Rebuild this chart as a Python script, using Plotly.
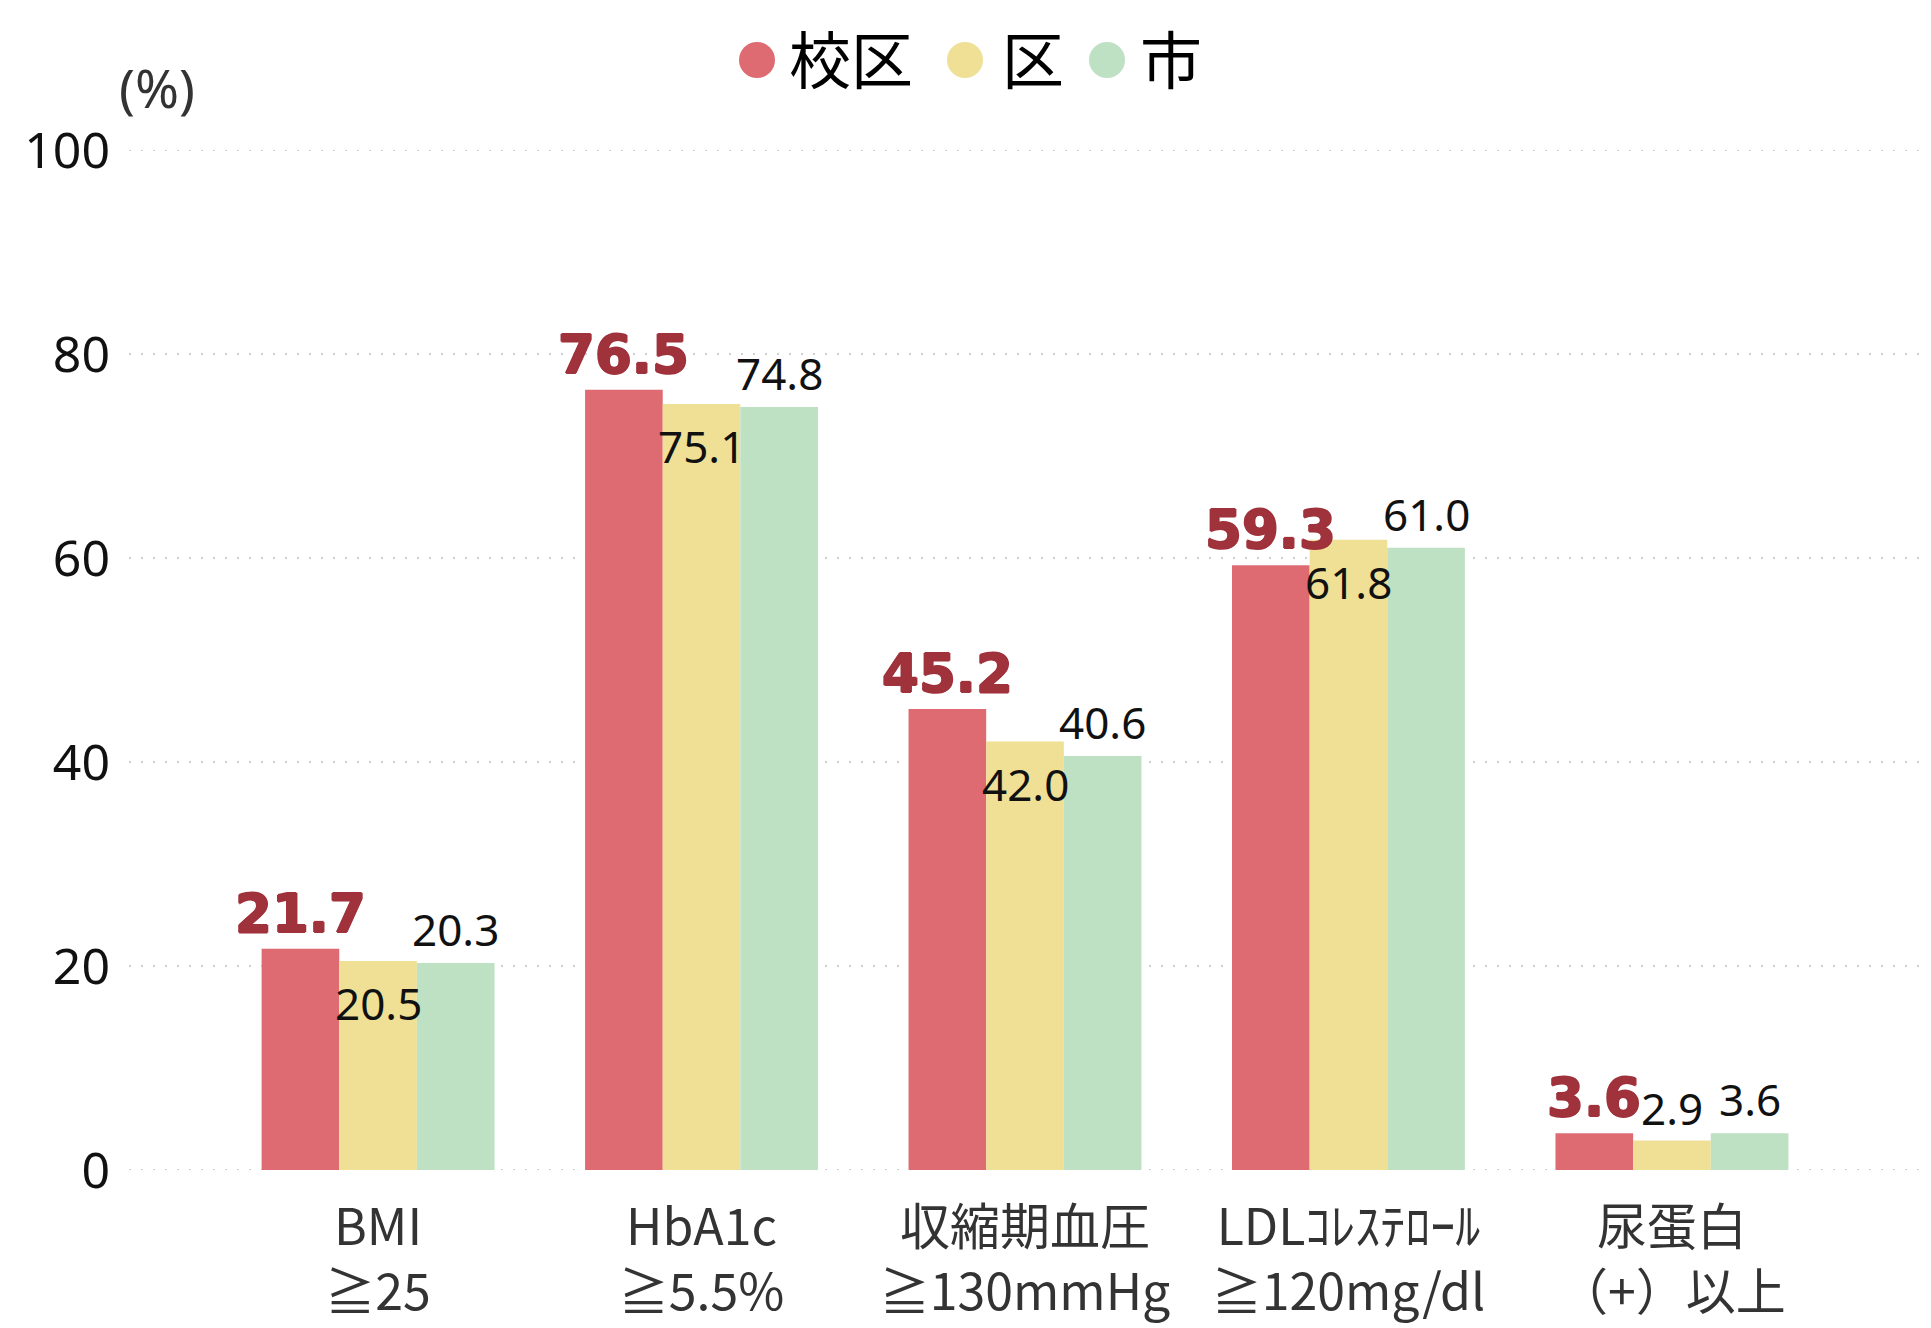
import plotly.graph_objects as go

# ---- data ----
categories = ["BMI<br>≧25", "HbA1c<br>≧5.5%", "収縮期血圧<br>≧130mmHg",
              "LDLｺﾚｽﾃﾛｰﾙ<br>≧120mg/dl", "尿蛋白<br>（+）以上"]
series_names = ["校区", "区", "市"]
school = [21.7, 76.5, 45.2, 59.3, 3.6]
ward = [20.5, 75.1, 42.0, 61.8, 2.9]
city = [20.3, 74.8, 40.6, 61.0, 3.6]
y_ticks = [0, 20, 40, 60, 80, 100]
y_unit = "(%)"

# ---- style ----
W, H = 1931, 1328
ML, MR, MT, MB = 129, 10, 150, 158
colors = ["#DE6A72", "#EFE096", "#BEE0C3"]
label_red = "#A0323C"
FONT = "Noto Sans, Noto Sans CJK JP, sans-serif"
CJK = "Noto Sans CJK JP, sans-serif"
BARGAP = 0.28
bar_w = (1 - BARGAP) / 3
offsets = [-bar_w, 0.0, bar_w]
GRID = dict(color="#cfcfcf", width=2, dash="2px,10px")
RED_SHADOW = ", ".join(f"{dx}px {dy}px 0px {label_red}" for dx, dy in [(1, 0), (-1, 0), (0, 1), (0, -1)])

pw, ph = W - ML - MR, H - MT - MB
def px2paper(x, y):
    return (x - ML) / pw, (H - MB - y) / ph

fig = go.Figure()
for name, vals, col in zip(series_names, [school, ward, city], colors):
    fig.add_trace(go.Bar(x=categories, y=vals, name=name, marker_color=col,
                         marker_line_width=0, showlegend=False, hoverinfo="skip"))

xi = list(range(len(categories)))
annotations = []
# school labels (bold red, above)
for i, v in zip(xi, school):
    annotations.append(dict(x=i + offsets[0], y=v, xref="x", yref="y", text=f"{v:.1f}",
                            showarrow=False, yanchor="bottom", yshift=3,
                            font=dict(family="DejaVu Sans", size=53, color=label_red,
                                      weight="bold", shadow=RED_SHADOW)))
# ward labels (inside top when fits, else above)
for i, v in zip(xi, ward):
    inside = v > 10
    annotations.append(dict(x=i + offsets[1], y=v, xref="x", yref="y", text=f"{v:.1f}",
                            showarrow=False, yanchor="top" if inside else "bottom",
                            yshift=-10 if inside else 0,
                            font=dict(family=FONT, size=44, color="#111111")))
# city labels (above)
for i, v in zip(xi, city):
    annotations.append(dict(x=i + offsets[2], y=v, xref="x", yref="y", text=f"{v:.1f}",
                            showarrow=False, yanchor="bottom", yshift=2,
                            font=dict(family=FONT, size=44, color="#111111")))

# unit label
ux, uy = px2paper(157, 87)
annotations.append(dict(x=ux, y=uy, xref="paper", yref="paper", text=y_unit, showarrow=False,
                        xanchor="center", yanchor="middle",
                        font=dict(family=FONT, size=53, color="#333333")))

# custom legend (circles + text)
shapes = []
legend_items = [(757, 787), (965, 1000), (1107, 1138)]
for (cx, tx), name, col in zip(legend_items, series_names, colors):
    pxc, pyc = px2paper(cx, 60)
    shapes.append(dict(type="circle", xref="paper", yref="paper", xsizemode="pixel", ysizemode="pixel",
                       xanchor=pxc, yanchor=pyc, x0=-18, x1=18, y0=-18, y1=18,
                       fillcolor=col, line_width=0))
    ptx, pty = px2paper(tx, 57)
    annotations.append(dict(x=ptx, y=pty, xref="paper", yref="paper", text=name, showarrow=False,
                            xanchor="left", yanchor="middle",
                            font=dict(family=CJK, size=62, color="#000000")))

# dotted lines at the range ends (plotly omits grid at the edges)
for yv in (y_ticks[0], y_ticks[-1]):
    shapes.append(dict(type="line", xref="paper", yref="y", x0=0, x1=1, y0=yv, y1=yv,
                       line=GRID, layer="below"))

fig.update_layout(
    width=W, height=H,
    margin=dict(l=ML, r=MR, t=MT, b=MB, pad=0),
    paper_bgcolor="white", plot_bgcolor="white",
    barmode="group", bargap=BARGAP, bargroupgap=0,
    font=dict(family=FONT),
    annotations=annotations, shapes=shapes,
    xaxis=dict(range=[-0.77, 4.77], showgrid=False, zeroline=False, showline=False,
               automargin=False,
               ticks="", tickfont=dict(family=CJK, size=50, color="#333333"),
               ticklabelstandoff=24),
    yaxis=dict(range=[0, 100], tickvals=y_ticks, showgrid=True, gridcolor=GRID["color"],
               gridwidth=GRID["width"], griddash=GRID["dash"], zeroline=False, showline=False,
               automargin=False,
               ticks="", tickfont=dict(family=FONT, size=50, color="#111111"), ticklabelstandoff=18),
)

fig.write_html("out.html", config={"displayModeBar": False},
               post_script="document.body.style.margin='0px';")
